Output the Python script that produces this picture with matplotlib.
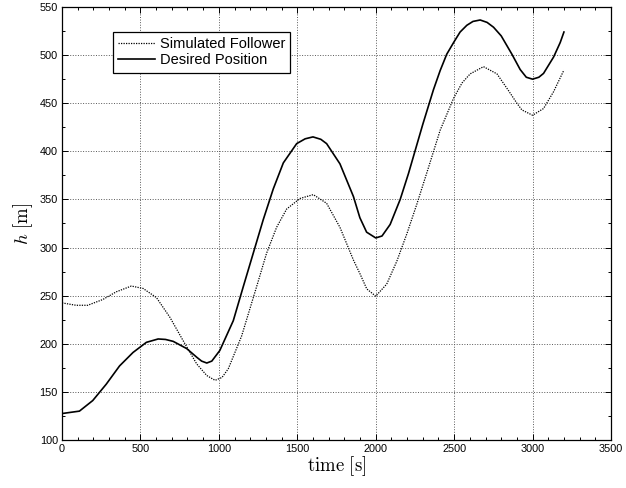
import matplotlib
matplotlib.use("Agg")
import matplotlib.pyplot as plt
from matplotlib.ticker import MultipleLocator

plt.rcParams["font.family"] = ["Liberation Sans", "DejaVu Sans"]
plt.rcParams["mathtext.fontset"] = "cm"

# values
t_des = [0, 111, 196, 282, 367, 453, 538, 613, 660, 709, 795, 859,
         890, 923, 955, 1006, 1092, 1155, 1219, 1283, 1347, 1411, 1496, 1550,
         1600, 1650, 1687, 1772, 1858, 1899, 1942, 2000, 2040, 2092, 2156,
         2209, 2250, 2300, 2368, 2411, 2453, 2500, 2538, 2581, 2620, 2666,
         2710, 2751, 2800, 2868, 2921, 2960, 3000, 3040, 3070, 3134, 3176,
         3200]
h_des = [127.5, 130, 141, 158, 177, 191, 201.5, 205, 204.5, 202.5, 195, 186,
         182, 180, 182, 193, 224, 259, 294, 329, 361, 388, 408, 413,
         415, 412.5, 408, 387, 353, 331, 316, 310, 312, 324, 350,
         377, 400, 428, 464, 484, 501, 514, 524, 531, 535, 536.5,
         534, 529, 520, 501, 485, 477, 475, 477, 481, 498, 513,
         524]

t_fol = [0, 90, 164, 260, 346, 442, 517, 602, 688, 773, 859, 923, 976, 1020,
         1060, 1145, 1240, 1304, 1368, 1432, 1517, 1602, 1687, 1772, 1858,
         1899, 1943, 2000, 2070, 2135, 2199, 2263, 2338, 2411, 2496, 2550,
         2602, 2687, 2773, 2847, 2900, 2932, 3000, 3070, 3134, 3200]
h_fol = [242.5, 240, 240, 246, 254, 260, 257.5, 248, 227.5, 203, 179, 167,
         162, 165, 174, 208, 259, 294, 321, 340, 351, 355, 346, 321, 287,
         273, 257, 249.5, 262, 286, 314.5, 345.5, 384, 422, 455, 471,
         480.5, 488, 480.5, 463, 450, 443, 437.5, 444.5, 462, 484.5]

fig = plt.figure(figsize=(6.26, 4.88), dpi=100)
ax = fig.add_axes([62 / 626, 1 - 440 / 488, 549 / 626, 433 / 488])

ax.plot(t_fol, h_fol, color="black", lw=0.9, ls=(0, (1, 1)),
        label="Simulated Follower")
ax.plot(t_des, h_des, color="black", lw=1.2, label="Desired Position")

ax.set_xlim(0, 3500)
ax.set_ylim(100, 550)
ax.xaxis.set_major_locator(MultipleLocator(500))
ax.xaxis.set_minor_locator(MultipleLocator(100))
ax.yaxis.set_major_locator(MultipleLocator(50))
ax.yaxis.set_minor_locator(MultipleLocator(25))
ax.tick_params(which="both", direction="in", top=True, right=True,
               labelsize=7.8, pad=3, width=0.7)
ax.tick_params(which="major", length=4)
ax.tick_params(which="minor", length=2)
for sp in ax.spines.values():
    sp.set_linewidth(0.9)

ax.grid(True, which="major", ls=":", color="0.35", lw=0.7)

ax.set_xlabel(r"$\mathrm{time}\ [\mathrm{s}]$", fontsize=13.5, labelpad=0)
ax.set_ylabel(r"$h\ [\mathrm{m}]$", fontsize=13.5, labelpad=3)

leg = ax.legend(loc="upper left", bbox_to_anchor=(0.093, 0.942),
                borderaxespad=0, fontsize=10.5, fancybox=False,
                framealpha=1, edgecolor="black", handlelength=2.5,
                handletextpad=0.35, labelspacing=0.15, borderpad=0.35)
leg.get_frame().set_linewidth(0.9)

fig.savefig("out.png", dpi=100)
